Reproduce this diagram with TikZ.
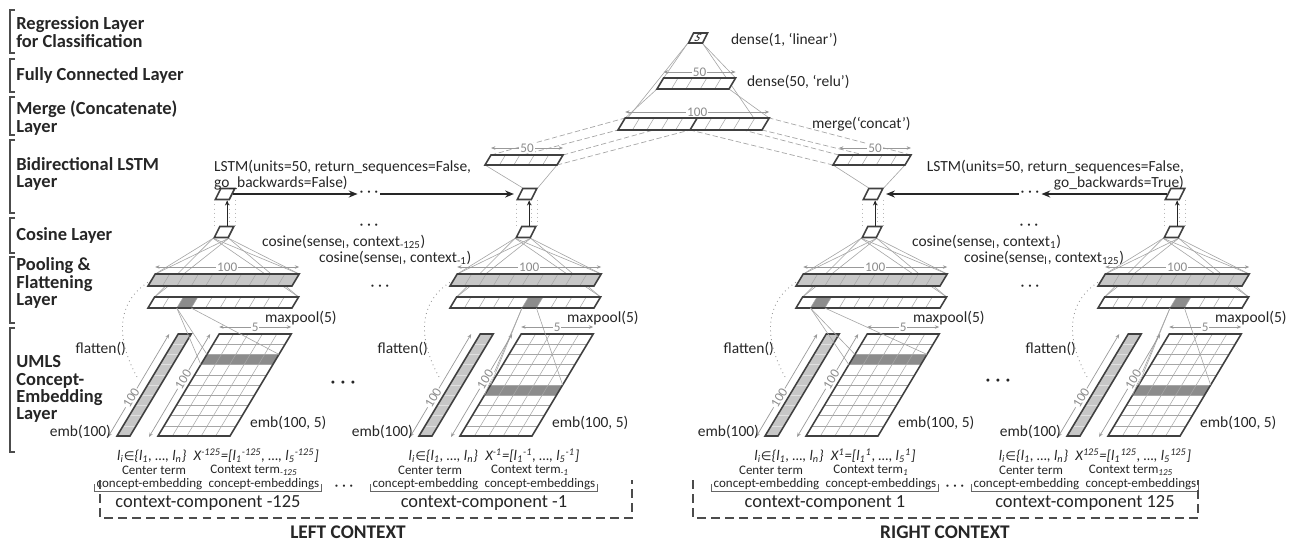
\documentclass[tikz,border=0pt]{standalone}
\usepackage{fontspec}
\setmainfont{Carlito}
\newfontfamily\dvsym{DejaVu Sans}
\usetikzlibrary{arrows.meta, positioning, calc, backgrounds}

\begin{document}
\begin{tikzpicture}[
    x=0.02cm, y=-0.02cm,
    every node/.style={text=black!85},
    lbl/.style={font=\fontsize{8.8}{9.2}\selectfont, inner sep=1pt},
    layerlbl/.style={font=\fontsize{10.5}{9.8}\selectfont\bfseries, align=left, anchor=west, inner sep=0pt},
    termlbl/.style={font=\fontsize{7.4}{8}\selectfont, inner sep=1pt},
    formlbl/.style={font=\fontsize{8.3}{9}\selectfont\itshape, inner sep=1pt},
    complbl/.style={font=\fontsize{10.5}{11}\selectfont, inner sep=1pt},
    ctxlbl/.style={font=\fontsize{11}{11}\selectfont\bfseries, inner sep=1pt},
    dimlbl/.style={font=\fontsize{7.5}{8}\selectfont, text=black!45, fill=white, inner sep=0.5pt},
    bigdots/.style={font=\fontsize{12}{12}\selectfont, inner sep=1pt},
    layerbrace/.style={draw=black!70, line width=0.8pt},
    bracketline/.style={draw=black!60, line width=0.4pt},
    barline/.style={draw=black!75, line width=0.9pt},
    cellline/.style={draw=black!35, line width=0.3pt},
    fanline/.style={draw=black!35, line width=0.35pt},
    dashline/.style={draw=black!35, line width=0.4pt, dash pattern=on 3pt off 1.5pt},
    dotline/.style={draw=black!40, line width=0.5pt, dotted},
    thindots/.style={draw=black!28, line width=0.35pt, dotted},
    dimline/.style={draw=black!40, line width=0.4pt, {Stealth[length=2.5pt,width=2pt]}-{Stealth[length=2.5pt,width=2pt]}},
    flowarrow/.style={draw=black!85, line width=0.9pt, -{Stealth[length=5pt,width=4pt]}},
    uparrow/.style={draw=black!85, line width=0.6pt, -{Stealth[length=3pt,width=2.5pt]}},
    cell/.style={draw=black!75, line width=0.9pt, fill=white, xslant=0.5, minimum width=0.28cm, minimum height=0.22cm, inner sep=0pt},
    boxline/.style={draw=black!70, line width=1pt, dash pattern=on 5pt off 3pt},
    % slanted layer bar: width, cells, fill, height, dark cell (0 = none)
    pics/slantbar/.style n args={5}{code={
        \coordinate (-bl) at (0,0);
        \coordinate (-br) at (#1,0);
        \coordinate (-tl) at (0.6*#4,-#4);
        \coordinate (-tr) at (#1+0.6*#4,-#4);
        \coordinate (-bm) at (#1/2,0);
        \coordinate (-tm) at (#1/2+0.6*#4,-#4);
        \fill[#3] (-bl) -- (-br) -- (-tr) -- (-tl) -- cycle;
        \ifnum#5>0
          \coordinate (-dbl) at ({#1*(#5-1)/#2},0);
          \coordinate (-dbr) at ({#1*#5/#2},0);
          \fill[black!45] (-dbl) -- (-dbr) -- ++(0.6*#4,-#4) -- ($(-dbl)+(0.6*#4,-#4)$) -- cycle;
        \fi
        \foreach \k in {1,...,#2}{
          \ifnum\k<#2 \draw[cellline] ({#1*\k/#2},0) -- ++(0.6*#4,-#4); \fi
        }
        \draw[barline] (-bl) -- (-br) -- (-tr) -- (-tl) -- cycle;
    }},
    % 100 x 5 embedding grid, one row shaded
    pics/embmatrix/.style={code={
        \coordinate (-bl) at (0,0);
        \coordinate (-br) at (72,0);
        \coordinate (-tl) at (61.2,-102);
        \coordinate (-tr) at (133.2,-102);
        \fill[white] (-bl) -- (-br) -- (-tr) -- (-tl) -- cycle;
        \coordinate (-dtl) at ({6.12*(11-#1)},{-10.2*(11-#1)});
        \coordinate (-dbl) at ({6.12*(10-#1)},{-10.2*(10-#1)});
        \coordinate (-dtr) at ($(-dtl)+(72,0)$);
        \coordinate (-dbr) at ($(-dbl)+(72,0)$);
        \fill[black!45] (-dtl) -- (-dtr) -- (-dbr) -- (-dbl) -- cycle;
        \foreach \r in {1,...,9} \draw[cellline] ({6.12*\r},{-10.2*\r}) -- ++(72,0);
        \foreach \c in {1,...,4} \draw[cellline] ({14.4*\c},0) -- ++(61.2,-102);
        \draw[barline] (-bl) -- (-br) -- (-tr) -- (-tl) -- cycle;
    }},
    % single 100-d vector
    pics/embstrip/.style={code={
        \coordinate (-bl) at (0,0);
        \coordinate (-br) at (13,0);
        \coordinate (-tl) at (61.2,-102);
        \coordinate (-tr) at (74.2,-102);
        \fill[black!22] (-bl) -- (-br) -- (-tr) -- (-tl) -- cycle;
        \foreach \r in {1,...,9} \draw[draw=black!12, line width=0.3pt] ({6.12*\r},{-10.2*\r}) -- ++(13,0);
        \draw[barline] (-bl) -- (-br) -- (-tr) -- (-tl) -- cycle;
    }}
]
\useasboundingbox (0,0) rectangle (1293,542);

% layer names on the left
\foreach \ya/\yb in {10/53, 59/92, 97/135, 140/213, 218/253, 257/323, 328/452}
    \draw[layerbrace] (15,\ya) -| (10,\yb) -- (15,\yb);
\node[layerlbl] (lyr1) at (16,32) {Regression Layer\\for Classification};
\node[layerlbl] (lyr2) at (16,75) {Fully Connected Layer};
\node[layerlbl] (lyr3) at (16,118) {Merge (Concatenate)\\Layer};
\node[layerlbl] (lyr4) at (16,174) {Bidirectional LSTM\\Layer};
\node[layerlbl] (lyr5) at (16,235) {Cosine Layer};
\node[layerlbl] (lyr6) at (16,283) {Pooling \&\\Flattening\\Layer};
\node[layerlbl] (lyr7) at (16,389) {UMLS\\Concept-\\Embedding\\Layer};

% context components
\foreach \i/\dx/\pc/\mr in {1/0/3/3, 2/302/6/6, 3/648/2/3, 4/950/6/6}{
  \begin{scope}[shift={(\dx,0)}]
    \node[cell] (lstm\i) at (225,194) {};
    \node[cell] (cos\i) at (224,232) {};
    \pic (fb\i) at (148,286) {slantbar={144}{10}{black!22}{12}{0}};
    \pic (mp\i) at (148,308) {slantbar={144}{10}{white}{11}{\pc}};
    \pic (st\i) at (117,436) {embstrip};
    \pic (mx\i) at (158,436) {embmatrix=\mr};

    \begin{scope}[on background layer]
      \foreach \c in {south west, south east}
        \foreach \t in {fb\i-tl, fb\i-tr, mp\i-tl, mp\i-tr}
          \draw[fanline] (cos\i.\c) -- (\t);
      \draw[dotline] ($(fb\i-bl)!0.5!(fb\i-tl)$) .. controls +(-38,22) and +(-22,-38) .. ($(st\i-bl)!0.55!(st\i-tl)+(-12,0)$);
    \end{scope}

    \draw[fanline] (mp\i-dbl) -- (mx\i-dtl);
    \draw[fanline] (mp\i-dbr) -- (mx\i-dtr);
    \draw[fanline] (mp\i-dbl) -- (mx\i-dbl);

    \draw[uparrow] (cos\i.north) -- (cos\i.north |- lstm\i.south);
    \draw[thindots] (lstm\i.south west) -- (lstm\i.south west |- cos\i.north);
    \draw[thindots] (cos\i.north east |- lstm\i.south) -- (cos\i.north east);
    \draw[thindots] (lstm\i.south east) -- (lstm\i.south east |- cos\i.north);

    \draw[dimline] ($(fb\i-tl)+(0,-7)$) -- node[dimlbl] {100} ($(fb\i-tr)+(0,-7)$);
    \draw[dimline] ($(mx\i-tl)+(0,-7)$) -- node[dimlbl] {5} ($(mx\i-tr)+(0,-7)$);
    \draw[dimline] ($(st\i-bl)+(-9,1)$) -- node[dimlbl, rotate=59, pos=0.38] {100} ($(st\i-tl)+(-9,0)$);
    \draw[dimline] ($(mx\i-bl)+(-9,1)$) -- node[dimlbl, rotate=59, pos=0.56] {100} ($(mx\i-tl)+(-9,0)$);

    \node[lbl, anchor=west] (mpl\i) at (263,318) {maxpool(5)};
    \node[lbl, anchor=west] (eml\i) at (248,423) {emb(100, 5)};
    \node[lbl, anchor=east] (evl\i) at ($(st\i-bl)+(-4,-4)$) {emb(100)};
    \node[lbl, anchor=east] (fll\i) at (128,349) {flatten()};
  \end{scope}
}

% merge, dense and output layers
\pic (lb) at (485,165) {slantbar={72}{5}{white}{10}{0}};
\pic (rb) at (833,165) {slantbar={72}{5}{white}{10}{0}};
\pic (mg) at (618,130) {slantbar={144}{10}{white}{12}{0}};
\draw[barline] (mg-bm) -- (mg-tm);
\pic (dn) at (657,89) {slantbar={72}{5}{white}{11}{0}};
\node[cell, minimum height=0.2cm, font=\fontsize{6.5}{6.5}\selectfont] (sc) at (698,38) {S};

\begin{scope}[on background layer]
  \draw[fanline] (lb-bl) -- (lstm2.north west);
  \draw[fanline] (lb-br) -- (lstm2.north east);
  \draw[fanline] (rb-bl) -- (lstm3.north west);
  \draw[fanline] (rb-br) -- (lstm3.north east);
  \draw[dashline] (lb-tl) -- (mg-tl);
  \draw[dashline] (lb-tr) -- (mg-tm);
  \draw[dashline] (lb-bl) -- (mg-bl);
  \draw[dashline] (lb-br) -- (mg-bm);
  \draw[dashline] (rb-tl) -- (mg-tm);
  \draw[dashline] (rb-tr) -- (mg-tr);
  \draw[dashline] (rb-bl) -- (mg-bm);
  \draw[dashline] (rb-br) -- (mg-br);
  \draw[fanline] (sc.south west) -- (mg-bl);
  \draw[fanline] (sc.south east) -- (mg-br);
  \draw[fanline] (sc.south west) -- (dn-tl);
  \draw[fanline] (sc.south east) -- (dn-tr);
  \draw[fanline] (dn-bl) -- (mg-tl);
  \draw[fanline] (dn-br) -- (mg-tr);
\end{scope}

\draw[dimline] ($(lb-tl)+(0,-7)$) -- node[dimlbl] {50} ($(lb-tr)+(0,-7)$);
\draw[dimline] ($(rb-tl)+(0,-7)$) -- node[dimlbl] {50} ($(rb-tr)+(0,-7)$);
\draw[dimline] ($(mg-tl)+(0,-6)$) -- node[dimlbl] {100} ($(mg-tr)+(0,-6)$);
\draw[dimline] ($(dn-tl)+(0,-6)$) -- node[dimlbl] {50} ($(dn-tr)+(0,-6)$);

\node[lbl, anchor=west] (denselbl1) at (729,40) {dense(1, ‘linear’)};
\node[lbl, anchor=west] (denselbl2) at (745,82) {dense(50, ‘relu’)};
\node[lbl, anchor=west] (mergelbl) at (810,124) {merge(‘concat’)};

% recurrent links
\node[lbl, anchor=west, align=left] (lstmlblL) at (212,175) {LSTM(units=50, return\_sequences=False,\\go\_backwards=False)};
\node[lbl, anchor=east, align=right] (lstmlblR) at (1186,175) {LSTM(units=50, return\_sequences=False,\\go\_backwards=True)};
\node[lbl] (lstmdotsL) at (369,194) {· · ·};
\node[lbl] (lstmdotsR) at (1030,194) {· · ·};
\draw[flowarrow] (lstm1.east) -- (lstmdotsL.west);
\draw[flowarrow, shorten >=3pt] (lstmdotsL.east) -- (lstm2.west);
\draw[flowarrow] (lstm4.west) -- (lstmdotsR.east);
\draw[flowarrow, shorten >=3pt] (lstmdotsR.west) -- (lstm3.east);

% cosine labels
\node[lbl] (cosdotsL) at (369,227) {· · ·};
\node[lbl, anchor=west] (coslblA) at (260,242) {cosine(sense\textsubscript{l}, context\textsubscript{-125})};
\node[lbl, anchor=west] (coslblB) at (317,258) {cosine(sense\textsubscript{l}, context\textsubscript{-1})};
\node[lbl] (cosdotsR) at (1029,227) {· · ·};
\node[lbl, anchor=west] (coslblC) at (910,242) {cosine(sense\textsubscript{l}, context\textsubscript{1})};
\node[lbl, anchor=west] (coslblD) at (962,258) {cosine(sense\textsubscript{l}, context\textsubscript{125})};

\node[lbl] (pooldotsL) at (380,288) {· · ·};
\node[lbl] (pooldotsR) at (1030,288) {· · ·};
\node[bigdots] (embdotsL) at (343,385) {· · ·};
\node[bigdots] (embdotsR) at (998,383) {· · ·};

% inputs of each component
\foreach \i/\bc/\ks in {1/208/-125, 2/484/-1, 3/825/1, 4/1085/125}{
  \node[formlbl] (frm\i) at (\bc+10,456) {l\textsubscript{i}{\dvsym\upshape\fontsize{7}{7}\selectfont ∈}\{l\textsubscript{1}, …, l\textsubscript{n}\}\enspace X\textsuperscript{\ks}=[l\textsubscript{1}\textsuperscript{\ks}, …, l\textsubscript{5}\textsuperscript{\ks}]};
  \node[termlbl] (ctr\i) at (\bc-54,470) {Center term};
  \node[termlbl] (ctx\i) at (\bc+46,470) {Context term\textsubscript{\itshape\ks}};
  \node[termlbl] (ce\i) at (\bc,484) {concept-embedding\enspace concept-embeddings};
  \draw[bracketline] (ce\i.west) -- (ce\i.south west) -- (ce\i.south east) -- (ce\i.east);
  \node[complbl] (cc\i) at (\bc,503) {context-component \ks};
}
\node[lbl] (inpdotsL) at (344,488) {· · ·};
\node[lbl] (inpdotsR) at (955,488) {· · ·};

\draw[boxline] (100,480) |- (632,518) -- (632,480);
\draw[boxline] (693,480) |- (1198,518) -- (1198,480);
\node[ctxlbl] (leftctx) at (348,532) {LEFT CONTEXT};
\node[ctxlbl] (rightctx) at (945,532) {RIGHT CONTEXT};

\end{tikzpicture}
\end{document}
